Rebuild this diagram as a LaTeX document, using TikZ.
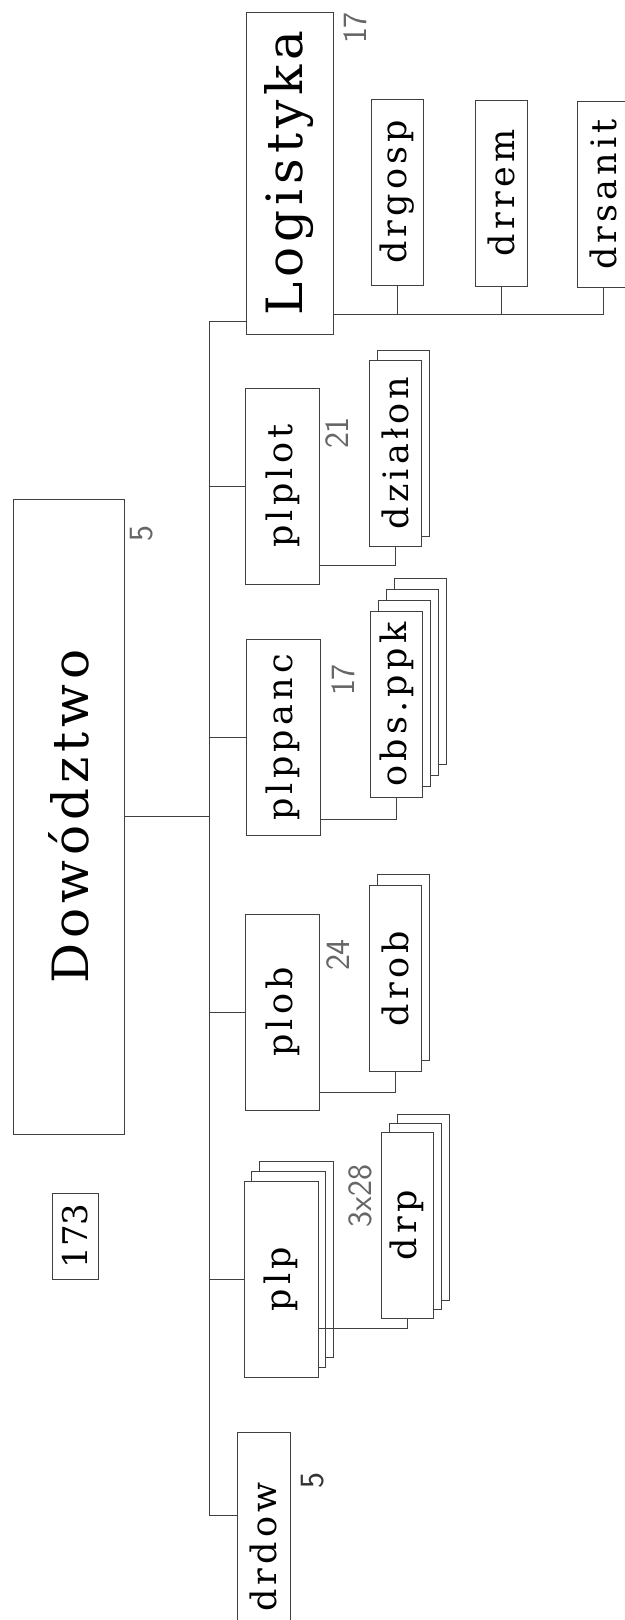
\documentclass[tikz,border=0pt]{standalone}
\usepackage{fontspec}
\usepackage{graphicx}
\setmainfont{DejaVu Serif}[LetterSpace=12]
\newfontfamily\wideserif{DejaVu Serif}[LetterSpace=10]
\newfontfamily\plainserif{DejaVu Serif}
\newcommand{\boxfont}{\fontsize{35}{35}\selectfont}
\newcommand{\headfont}{\wideserif\fontsize{50}{50}\selectfont}
\newcommand{\totalfont}{\plainserif\fontsize{34}{34}\selectfont}
\newcommand{\cntfont}{\sffamily\fontsize{34}{34}\selectfont}
\usetikzlibrary{positioning}

\begin{document}
\begin{tikzpicture}[x=1pt, y=-1pt,
		unitbox/.style={rectangle, draw=black!75, fill=white, line width=0.9pt, inner sep=0pt, minimum width=74pt, minimum height=196pt, font=\boxfont},
		subbox/.style={unitbox, minimum width=52pt, minimum height=186pt},
		count/.style={rotate=90, inner sep=0pt, text=black!60, font=\cntfont},
		link/.style={draw=black!75, line width=0.9pt},
		]
		\useasboundingbox (0,0) rectangle (624,1620);
		%Nodes
		\node[unitbox, minimum width=111pt, minimum height=635pt, font=\headfont] (dowodztwo) at (68.5,816.5) {\rotatebox{90}{Dowództwo}};
		\node[count] (dowodztwo-n) at (142,534) {5};
		\node[unitbox, minimum width=46pt, minimum height=86pt, font=\totalfont] (total) at (75,1236) {\rotatebox{90}{173}};
		
		\node[unitbox, minimum width=87pt, minimum height=322pt, font=\headfont] (logistyka) at (289.5,173) {\rotatebox{90}{Logistyka}};
		\node[count] (logistyka-n) at (355,28) {17};
		\node[subbox] (drgosp)  at (397,192)   {\rotatebox{90}{drgosp}};
		\node[subbox] (drrem)   at (501,193)   {\rotatebox{90}{drrem}};
		\node[subbox] (drsanit) at (603,194.5) {\rotatebox{90}{drsanit}};
		
		\node[unitbox] (plplot) at (282.5,486) {\rotatebox{90}{plplot}};
		\node[count] (plplot-n) at (337,433) {21};
		\node[subbox, xshift=8pt, yshift=10pt] (dzialon-1) at (395,453) {};
		\node[subbox] (dzialon) at (395,453) {\rotatebox{90}{działon}};
		
		\node[unitbox] (plppanc) at (283,737.5) {\rotatebox{90}{plppanc}};
		\node[count] (plppanc-n) at (343,680) {17};
		\foreach \k in {3,2,1}
			\node[subbox, xshift=\k*8pt, yshift=\k*11pt] (obs-\k) at (396.5,704.5) {};
		\node[subbox] (obs) at (396.5,704.5) {\rotatebox{90}{obs.ppk}};
		
		\node[unitbox] (plob) at (282.5,1012) {\rotatebox{90}{plob}};
		\node[count] (plob-n) at (338,955) {24};
		\node[subbox, xshift=8pt, yshift=11pt] (drob-1) at (395,978.5) {};
		\node[subbox] (drob) at (395,978.5) {\rotatebox{90}{drob}};
		
		\foreach \k in {2,1}
			\node[unitbox, xshift=\k*7.5pt, yshift=\k*10pt] (plp-\k) at (281,1279) {};
		\node[unitbox] (plp) at (281,1279) {\rotatebox{90}{plp}};
		\node[count] (plp-n) at (360,1196) {3x28};
		\foreach \k in {2,1}
			\node[subbox, xshift=\k*8pt, yshift=\k*9pt] (drp-\k) at (407,1225.5) {};
		\node[subbox] (drp) at (407,1225.5) {\rotatebox{90}{drp}};
		
		\node[subbox, minimum width=53pt, minimum height=230pt] (drdow) at (263.5,1547) {\rotatebox{90}{drdow}};
		\node[count, text=black!80] (drdow-n) at (313,1480) {5};
		
		%Lines
		\coordinate (bus-top) at (209,321);
		\coordinate (bus-bot) at (209,1515);
		\coordinate (log-sub) at ([yshift=20pt]logistyka.south east);
		\draw[link] (bus-top) -- (bus-bot);
		\draw[link] (dowodztwo.east) -- (dowodztwo.east -| bus-top);
		\draw[link] (bus-top) -- (bus-top -| logistyka.west);
		\draw[link] (bus-bot) -- (bus-bot -| drdow.west);
		\foreach \n in {plplot,plppanc,plob,plp}
			\draw[link] (\n.west) -- (\n.west -| bus-top);
		
		\draw[link] (log-sub) -| (drsanit.south);
		\draw[link] (drgosp.south) -- (drgosp.south |- log-sub);
		\draw[link] (drrem.south) -- (drrem.south |- log-sub);
		
		\draw[link] ([yshift=-79pt]plplot.east) -| (dzialon.south);
		\draw[link] ([yshift=-82pt]plppanc.east) -| (obs.south);
		\draw[link] ([yshift=-80pt]plob.east) -| (drob.south);
		\draw[link] ([yshift=-49pt]plp.east) -| (drp.south);
	\end{tikzpicture}
\end{document}
